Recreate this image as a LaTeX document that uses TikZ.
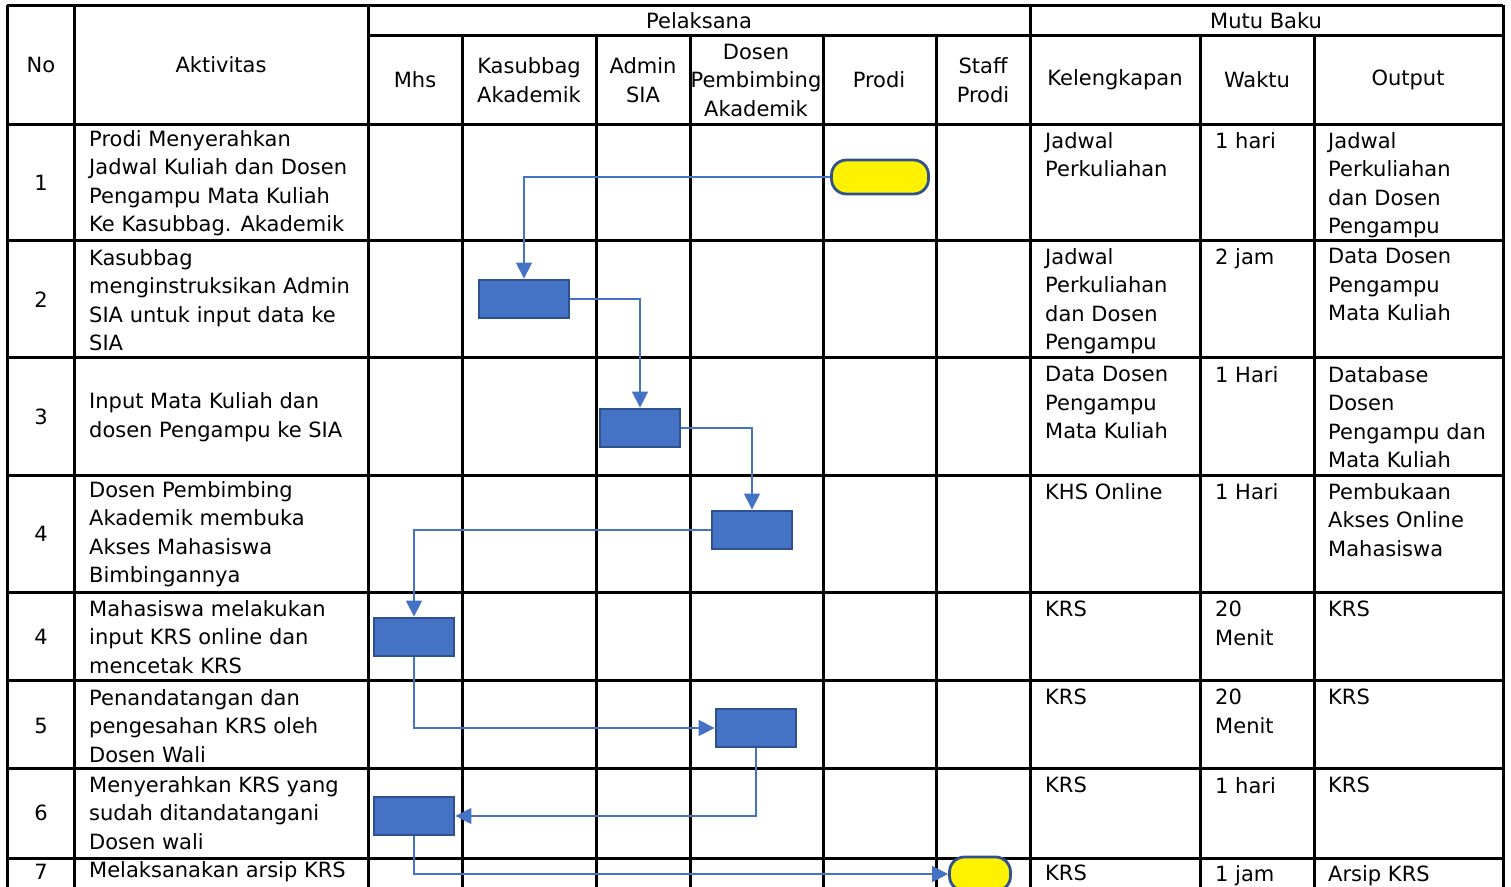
\documentclass[tikz,border=0pt]{standalone}
\usepackage{fontspec}
\setmainfont{DejaVu Sans}
\usepackage{xcolor}
\usetikzlibrary{arrows.meta, positioning}
\definecolor{flowblue}{HTML}{4472C4}
\definecolor{flowedge}{HTML}{2F528F}

\begin{document}
\begin{tikzpicture}[
  x=1bp, y=-1bp,
  font=\fontsize{21bp}{28.5bp}\selectfont,
  grid/.style={line width=3bp, black},
  head/.style={align=center, inner sep=0pt},
  nocell/.style={inner sep=0pt},
  cell/.style={align=left, inner sep=0pt, anchor=west},
  mutu/.style={align=left, inner sep=0pt, anchor=north west},
  proc/.style={draw=flowedge, line width=2.8bp, fill=flowblue, minimum width=80bp, minimum height=38bp, inner sep=0pt},
  term/.style={draw=flowedge, line width=2.8bp, fill=yellow, rounded corners=15bp, minimum height=34bp, inner sep=0pt},
  arr/.style={-{Triangle[length=16bp,width=16bp]}, flowblue, line width=1.5bp},
]
\useasboundingbox (0,0) rectangle (1511,886);
% table grid
\foreach \yy in {5,124,240,357,475,592,680,768,858}
  \draw[grid] (7,\yy) -- (1503,\yy);
\draw[grid] (368,35) -- (1503,35);
\foreach \xx in {7,74,368,1030,1503}
  \draw[grid] (\xx,5) -- (\xx,892);
\foreach \xx in {462,596,690,823,936,1200,1314}
  \draw[grid] (\xx,35) -- (\xx,892);
% header
\node[head] (hno) at (41,65) {No};
\node[head] (hakt) at (221,65) {Aktivitas};
\node[head] (hpel) at (699,21) {Pelaksana};
\node[head] (hmutu) at (1266,21) {Mutu Baku};
\node[head] (hmhs) at (415,80) {Mhs};
\node[head] (hkasub) at (529,80) {Kasubbag\\Akademik};
\node[head] (hadmin) at (643,80) {Admin\\SIA};
\node[head] (hdosen) at (756,80) {Dosen\\Pembimbing\\Akademik};
\node[head] (hprodi) at (879,80) {Prodi};
\node[head] (hstaff) at (983,80) {Staff\\Prodi};
\node[head] (hleng) at (1115,80) {Kelengkapan};
\node[head] (hwaktu) at (1257,80) {Waktu};
\node[head] (hout) at (1408,80) {Output};
% nomor
\node[nocell] (n1) at (41,183) {1};
\node[nocell] (n2) at (41,300) {2};
\node[nocell] (n3) at (41,417) {3};
\node[nocell] (n4) at (41,534) {4};
\node[nocell] (n5) at (41,637) {4};
\node[nocell] (n6) at (41,726) {5};
\node[nocell] (n7) at (41,813) {6};
\node[nocell] (n8) at (41,872) {7};
% aktivitas
\node[cell] (a1) at (89,183) {Prodi Menyerahkan\\Jadwal Kuliah dan Dosen\\Pengampu Mata Kuliah\\Ke Kasubbag. Akademik};
\node[cell] (a2) at (89,300) {Kasubbag\\menginstruksikan Admin\\SIA untuk input data ke\\SIA};
\node[cell] (a3) at (89,417) {Input Mata Kuliah dan\\dosen Pengampu ke SIA};
\node[cell] (a4) at (89,534) {Dosen Pembimbing\\Akademik membuka\\Akses Mahasiswa\\Bimbingannya};
\node[cell] (a5) at (89,637) {Mahasiswa melakukan\\input KRS online dan\\mencetak KRS};
\node[cell] (a6) at (89,726) {Penandatangan dan\\pengesahan KRS oleh\\Dosen Wali};
\node[cell] (a7) at (89,813) {Menyerahkan KRS yang\\sudah ditandatangani\\Dosen wali};
\node[cell] (a8) at (89,872) {Melaksanakan arsip KRS};
% mutu baku
\node[mutu] (k1) at (1045,132) {Jadwal\\Perkuliahan};
\node[mutu] (w1) at (1215,132) {1 hari};
\node[mutu] (o1) at (1328,132) {Jadwal\\Perkuliahan\\dan Dosen\\Pengampu};
\node[mutu] (k2) at (1045,248) {Jadwal\\Perkuliahan\\dan Dosen\\Pengampu};
\node[mutu] (w2) at (1215,248) {2 jam};
\node[mutu] (o2) at (1328,248) {Data Dosen\\Pengampu\\Mata Kuliah};
\node[mutu] (k3) at (1045,366) {Data Dosen\\Pengampu\\Mata Kuliah};
\node[mutu] (w3) at (1215,366) {1 Hari};
\node[mutu] (o3) at (1328,366) {Database\\Dosen\\Pengampu dan\\Mata Kuliah};
\node[mutu] (k4) at (1045,483) {KHS Online};
\node[mutu] (w4) at (1215,483) {1 Hari};
\node[mutu] (o4) at (1328,483) {Pembukaan\\Akses Online\\Mahasiswa};
\node[mutu] (k5) at (1045,601) {KRS};
\node[mutu] (w5) at (1215,601) {20\\Menit};
\node[mutu] (o5) at (1328,601) {KRS};
\node[mutu] (k6) at (1045,689) {KRS};
\node[mutu] (w6) at (1215,689) {20\\Menit};
\node[mutu] (o6) at (1328,689) {KRS};
\node[mutu] (k7) at (1045,777) {KRS};
\node[mutu] (w7) at (1215,777) {1 hari};
\node[mutu] (o7) at (1328,777) {KRS};
\node[mutu] (k8) at (1045,865) {KRS};
\node[mutu] (w8) at (1215,865) {1 jam};
\node[mutu] (o8) at (1328,865) {Arsip KRS};
% flow shapes
\node[term, minimum width=97bp] (t1) at (880,177) {};
\node[proc, minimum width=90bp] (b2) at (524,299) {};
\node[proc] (b3) at (640,428) {};
\node[proc] (b4) at (752,530) {};
\node[proc] (b5) at (414,637) {};
\node[proc] (b6) at (756,728) {};
\node[proc] (b7) at (414,816) {};
\node[term, minimum width=61bp] (t8) at (980,874) {};
% connectors
\draw[arr] (t1.west) -| (b2.north);
\draw[arr] (b2.east) -| (b3.north);
\draw[arr] (b3.east) -| (b4.north);
\draw[arr] (b4.west) -| (b5.north);
\draw[arr] (b5.south) |- (b6.west);
\draw[arr] (b6.south) |- (b7.east);
\draw[arr] (b7.south) |- (t8.west);
\end{tikzpicture}
\end{document}
